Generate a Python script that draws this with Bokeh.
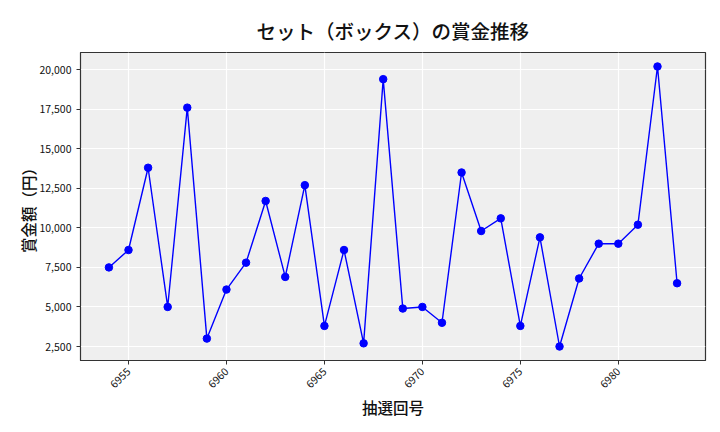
import math

from bokeh.plotting import figure
from bokeh.models import Range1d, SingleIntervalTicker, NumeralTickFormatter, Title
from bokeh.embed import file_html
from bokeh.resources import INLINE

# 抽選回号と賞金額（円）
draws = list(range(6954, 6984))
prize = [7500, 8600, 13800, 5000, 17600, 3000, 6100, 7800, 11700, 6900,
         12700, 3800, 8600, 2700, 19400, 4900, 5000, 4000, 13500, 9800,
         10600, 3800, 9400, 2500, 6800, 9000, 9000, 10200, 20200, 6500]

FONT = "Noto Sans CJK JP"
FONT_MED = "'Noto Sans CJK JP Medium', 'Noto Sans CJK JP'"

xpad = (max(draws) - min(draws)) * 0.05
ypad = (max(prize) - min(prize)) * 0.05

p = figure(width=712, height=424, output_backend="svg", toolbar_location=None,
           x_range=Range1d(min(draws) - xpad, max(draws) + xpad),
           y_range=Range1d(min(prize) - ypad, max(prize) + ypad),
           title=None,
           min_border_left=80, min_border_right=7, min_border_top=52, min_border_bottom=64)

# spacer between the frame and the title
p.add_layout(Title(text=" ", text_font_size="1px", standoff=0), "above")
p.add_layout(Title(text="セット（ボックス）の賞金推移", align="center",
                   text_font=FONT_MED, text_font_size="19.5px",
                   text_font_style="normal", text_color="#111111"), "above")

p.background_fill_color = "#efefef"
p.border_fill_color = "white"
p.outline_line_color = "#333333"
p.outline_line_width = 1.2

p.xgrid.grid_line_color = "white"
p.ygrid.grid_line_color = "white"
p.xgrid.grid_line_width = 1.2
p.ygrid.grid_line_width = 1.2

p.xaxis.ticker = SingleIntervalTicker(interval=5)
p.yaxis.ticker = SingleIntervalTicker(interval=2500)
p.xgrid.ticker = p.xaxis.ticker
p.ygrid.ticker = p.yaxis.ticker
p.yaxis.formatter = NumeralTickFormatter(format="0,0")
p.xaxis.major_label_orientation = math.pi / 4

for ax in (p.xaxis, p.yaxis):
    ax.minor_tick_line_color = None
    ax.major_tick_in = 0
    ax.major_tick_out = 4
    ax.axis_line_color = "#333333"
    ax.major_tick_line_color = "#333333"
    ax.major_label_text_font = FONT
    ax.major_label_text_font_size = "10.5px"
    ax.major_label_text_color = "#111111"
    ax.axis_label_text_font = FONT_MED
    ax.axis_label_text_font_size = "15.5px"
    ax.axis_label_text_font_style = "normal"
    ax.axis_label_text_color = "#111111"

p.xaxis.axis_label = "抽選回号"
p.yaxis.axis_label = "賞金額（円）"
p.yaxis.axis_label_standoff = -3
p.xaxis.axis_label_standoff = 1

p.line(draws, prize, line_color="blue", line_width=1.4)
p.scatter(draws, prize, size=7.5, fill_color="blue", line_color="blue")

open("out.html", "w").write(file_html(p, INLINE))
